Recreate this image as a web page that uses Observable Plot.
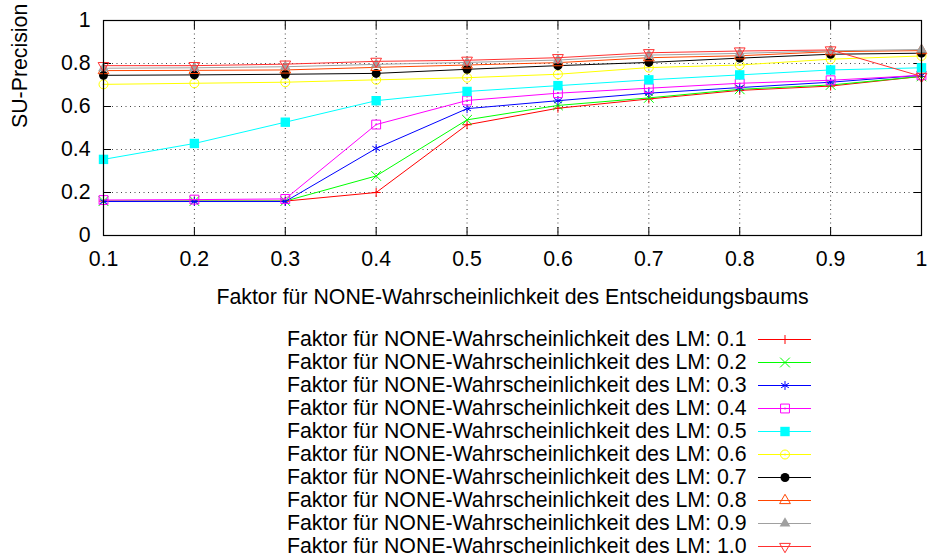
<!DOCTYPE html>
<html>
<head>
<meta charset="utf-8">
<script src="https://cdn.jsdelivr.net/npm/d3@7"></script>
<script src="https://cdn.jsdelivr.net/npm/@observablehq/plot@0.6"></script>
<style>
  html, body { margin: 0; padding: 0; background: #fff; }
  #chart svg { display: block; }
</style>
</head>
<body>
<div id="chart"></div>
<script>
// ---- data ----
const xValues = [0.1, 0.2, 0.3, 0.4, 0.5, 0.6, 0.7, 0.8, 0.9, 1.0];
const xTicks = [0.1, 0.2, 0.3, 0.4, 0.5, 0.6, 0.7, 0.8, 0.9, 1.0];
const yTicks = [0, 0.2, 0.4, 0.6, 0.8, 1];
const lmFactors = ["0.1", "0.2", "0.3", "0.4", "0.5", "0.6", "0.7", "0.8", "0.9", "1.0"];
const xLabel = "Faktor für NONE-Wahrscheinlichkeit des Entscheidungsbaums";
const yLabel = "SU-Precision";
const legendPrefix = "Faktor für NONE-Wahrscheinlichkeit des LM: ";

const s01 = [0.16, 0.16, 0.16, 0.20, 0.515, 0.592, 0.635, 0.675, 0.695, 0.74];
const s02 = [0.16, 0.16, 0.16, 0.277, 0.538, 0.605, 0.64, 0.68, 0.70, 0.74];
const s03 = [0.158, 0.158, 0.158, 0.405, 0.59, 0.627, 0.662, 0.688, 0.713, 0.745];
const s04 = [0.165, 0.167, 0.17, 0.516, 0.628, 0.662, 0.685, 0.708, 0.722, 0.745];
const s05 = [0.354, 0.428, 0.527, 0.627, 0.67, 0.697, 0.724, 0.747, 0.77, 0.78];
const s06 = [0.703, 0.708, 0.713, 0.724, 0.734, 0.75, 0.781, 0.793, 0.82, 0.835];
const s07 = [0.745, 0.747, 0.75, 0.754, 0.773, 0.79, 0.805, 0.825, 0.843, 0.848];
const s08 = [0.767, 0.768, 0.77, 0.782, 0.793, 0.804, 0.827, 0.836, 0.855, 0.86];
const s09 = [0.778, 0.78, 0.785, 0.796, 0.805, 0.816, 0.839, 0.847, 0.859, 0.865];
const s10 = [0.79, 0.79, 0.797, 0.81, 0.815, 0.827, 0.85, 0.858, 0.863, 0.74];
const seriesValues = [s01, s02, s03, s04, s05, s06, s07, s08, s09, s10];

// ---- styles ----
const triangleDown = {
  draw(context, size) {
    const y = -Math.sqrt(size / (3 * Math.sqrt(3)));
    context.moveTo(0, -2 * y);
    context.lineTo(-Math.sqrt(3) * y, y);
    context.lineTo(Math.sqrt(3) * y, y);
    context.closePath();
  }
};
const colors = ["#ff0000", "#00ff00", "#0000ff", "#ff00ff", "#00ffff", "#ffff00", "#000000", "#ff4500", "#a0a0a0", "#ff3030"];
const symbols = ["plus", "times", "asterisk", "square", "square", "circle", "circle", "triangle", "triangle", triangleDown];
const filled = [false, false, false, false, true, false, true, false, true, false];
const radii = [3, 4.5, 4.2, 5, 5.3, 4.5, 4.5, 4, 4, 4];
const centerDot = [false, false, false, true, false, true, false, false, false, false];
const font = { fontFamily: "'Liberation Sans', Arial, sans-serif", fontSize: "21.3px", background: "#fff" };

const rows = seriesValues.flatMap((vals, i) =>
  vals.map((v, j) => ({ series: lmFactors[i], x: xValues[j], y: v, i })));

function seriesMarks(data, i, pos) {
  const dotOpts = filled[i]
    ? { fill: colors[i], stroke: "none" }
    : { fill: "none", stroke: colors[i], strokeWidth: 1 };
  const out = [
    Plot.dot(data, { ...pos, symbol: symbols[i], r: radii[i], ...dotOpts })
  ];
  if (centerDot[i]) out.push(Plot.dot(data, { ...pos, r: 0.9, fill: colors[i], stroke: "none" }));
  return out;
}

const noText = () => "";
const mainMarks = [
  Plot.gridX(xTicks, { stroke: "#444", strokeOpacity: 1, strokeDasharray: "1,3.5" }),
  Plot.gridY(yTicks, { stroke: "#444", strokeOpacity: 1, strokeDasharray: "1,3.5" }),
  // inward ticks (left/bottom) and mirrored ticks (right/top)
  Plot.axisX(xTicks, { anchor: "bottom", tickSize: 8, dy: -8, tickFormat: noText, label: null }),
  Plot.axisX(xTicks, { anchor: "top", tickSize: 8, dy: 8, tickFormat: noText, label: null }),
  Plot.axisY(yTicks, { anchor: "left", tickSize: 8, dx: 8, tickFormat: noText, label: null }),
  Plot.axisY(yTicks, { anchor: "right", tickSize: 8, dx: -8, tickFormat: noText, label: null }),
  // tick labels
  Plot.axisX(xTicks, { anchor: "bottom", tickSize: 0, tickPadding: 15, tickFormat: d => d3.format("~g")(d), label: null }),
  Plot.axisY(yTicks, { anchor: "left", tickSize: 0, tickPadding: 13, tickFormat: d => d3.format("~g")(d), label: null }),
  Plot.text([xLabel], { text: d => d, frameAnchor: "bottom", dy: 62, lineAnchor: "middle", fill: "#000" }),
  Plot.text([yLabel], { text: d => d, frameAnchor: "left", dx: -83, rotate: -90, fill: "#000" })
];
lmFactors.forEach((f, i) => {
  const data = rows.filter(d => d.i === i);
  mainMarks.push(Plot.line(data, { x: "x", y: "y", stroke: colors[i], strokeWidth: 1 }));
  mainMarks.push(...seriesMarks(data, i, { x: "x", y: "y" }));
});
mainMarks.push(Plot.frame({ stroke: "#000", strokeWidth: 1.2 }));

const main = Plot.plot({
  width: 928,
  height: 310,
  marginLeft: 103,
  marginRight: 7,
  marginTop: 20,
  marginBottom: 75,
  style: font,
  x: { domain: [0.1, 1], axis: null },
  y: { domain: [0, 1], axis: null },
  marks: mainMarks
});

// ---- legend ----
const legendMarks = [];
lmFactors.forEach((f, i) => {
  legendMarks.push(Plot.ruleY([f], { y: d => d, stroke: colors[i], strokeWidth: 1 }));
  legendMarks.push(...seriesMarks([f], i, { y: d => d, frameAnchor: "middle" }));
});
legendMarks.push(Plot.text(lmFactors, {
  y: d => d, text: d => legendPrefix + d, frameAnchor: "left", textAnchor: "end", dx: -12, fill: "#000"
}));

const legend = Plot.plot({
  width: 928,
  height: 250,
  marginLeft: 758,
  marginRight: 117,
  marginTop: 26,
  marginBottom: 12,
  style: font,
  y: { type: "point", domain: lmFactors, padding: 0, axis: null },
  marks: legendMarks
});

document.getElementById("chart").append(main, legend);
</script>
</body>
</html>
